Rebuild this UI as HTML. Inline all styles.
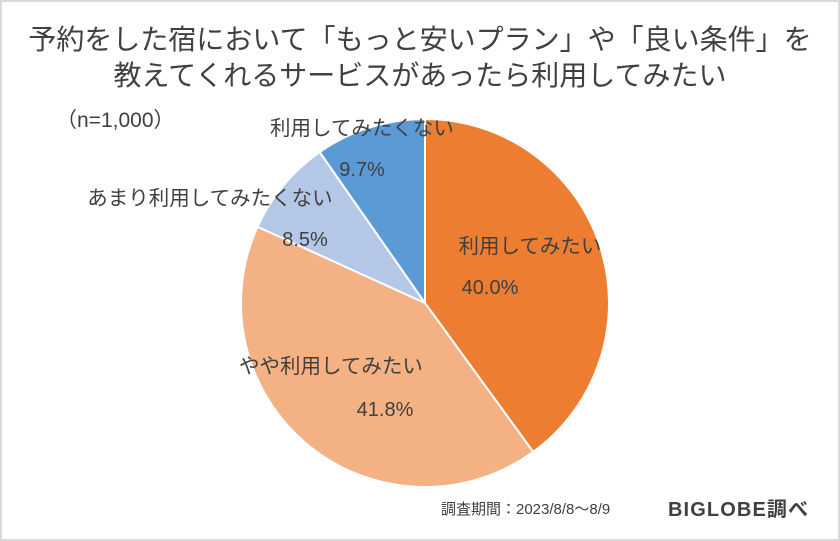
<!DOCTYPE html>
<html><head><meta charset="utf-8"><style>
html,body{margin:0;padding:0;background:#fff}
svg{display:block}
text{font-family:"Liberation Sans","Noto Sans CJK JP",sans-serif}
</style></head><body>
<svg id="chart" width="840" height="541" viewBox="0 0 840 541">
<rect x="1" y="1" width="838" height="539" fill="#fff" stroke="#d9d9d9" stroke-width="2"/>
<text x="420" y="49" text-anchor="middle" font-size="28" fill="#404040">予約をした宿において「もっと安いプラン」や「良い条件」を</text>
<text x="420" y="85" text-anchor="middle" font-size="28" fill="#404040">教えてくれるサービスがあったら利用してみたい</text>
<text x="56" y="127" font-size="21" fill="#404040">（n=1,000）</text>
<g id="slices"></g>
<g id="labels"></g>
<text x="441" y="514" font-size="15" fill="#404040">調査期間：2023/8/8～8/9</text>
<text x="668" y="516" font-size="20" font-weight="bold" fill="#404040" textLength="140">BIGLOBE調べ</text>
</svg>
<script>
const categories = ["利用してみたい","やや利用してみたい","あまり利用してみたくない","利用してみたくない"];
const values = [40.0, 41.8, 8.5, 9.7];
const valueLabels = ["40.0%","41.8%","8.5%","9.7%"];
const colors = ["#ED7D31","#F4B183","#B4C7E7","#5B9BD5"];
const cx=425, cy=303, r=184;
const labelPos=[[530,253,490,294],[331,373,385,416],[210,205,305,246],[362,135,362,176]];
const ns="http://www.w3.org/2000/svg";
const total=values.reduce((a,b)=>a+b,0);
function pt(a){return [cx+r*Math.sin(a), cy-r*Math.cos(a)];}
let ang=0;
const gs=document.getElementById('slices'), gl=document.getElementById('labels');
values.forEach((v,i)=>{
  const a0=ang, a1=ang+v/total*2*Math.PI; ang=a1;
  const p0=pt(a0), p1=pt(a1), large=(a1-a0)>Math.PI?1:0;
  const p=document.createElementNS(ns,'path');
  p.setAttribute('d',`M${cx},${cy}L${p0[0]},${p0[1]}A${r},${r} 0 ${large} 1 ${p1[0]},${p1[1]}Z`);
  p.setAttribute('fill',colors[i]);p.setAttribute('stroke','#fff');p.setAttribute('stroke-width','2');
  
  
  gs.appendChild(p);
  const lp=labelPos[i];
  const t1=document.createElementNS(ns,'text');
  t1.setAttribute('x',lp[0]);t1.setAttribute('y',lp[1]);t1.setAttribute('text-anchor','middle');
  t1.setAttribute('font-size','20.5');t1.setAttribute('fill','#404040');t1.textContent=categories[i];
  
  
  gl.appendChild(t1);
  const t2=document.createElementNS(ns,'text');
  t2.setAttribute('x',lp[2]);t2.setAttribute('y',lp[3]);t2.setAttribute('text-anchor','middle');
  t2.setAttribute('font-size','20');t2.setAttribute('fill','#404040');t2.textContent=valueLabels[i];
  
  
  gl.appendChild(t2);
});
</script>
</body></html>
